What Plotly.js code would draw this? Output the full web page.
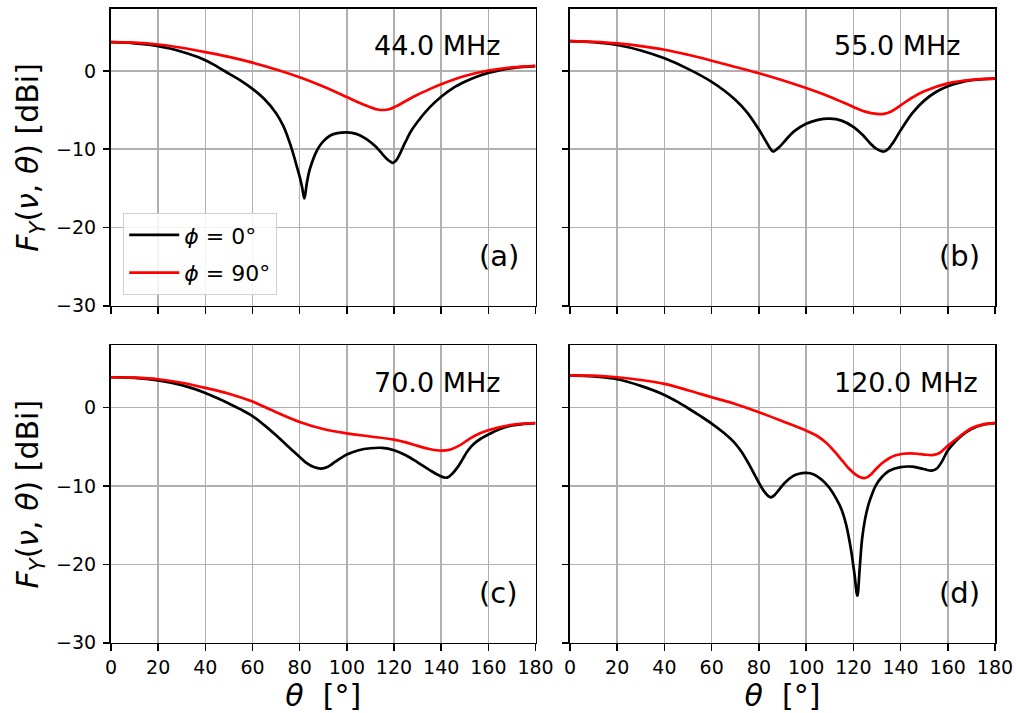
<!DOCTYPE html>
<html><head><meta charset="utf-8">
<script src="https://cdn.plot.ly/plotly-3.0.1.min.js"></script>
<style>html,body{margin:0;padding:0;background:#fff}#plot{width:1016px;height:713px}</style>
</head><body><div id="plot"></div>
<script>
// ---- data ----
const thetaTicks = [0,20,40,60,80,100,120,140,160,180];
const yTicks = [-30,-20,-10,0];
const freqLabels = ['44.0 MHz','55.0 MHz','70.0 MHz','120.0 MHz'];
const panelTags = ['(a)','(b)','(c)','(d)'];
const seriesNames = ['<i>ϕ</i> = 0°','<i>ϕ</i> = 90°'];

// (a) 44 MHz
const thA0 = [0,5,10,15,20,25,30,35,40,45,50,55,60,65,70,73,75,77,78.5,80,81,82,83,84,85,86.5,88,90,93,96,100,104,108,112,115,117,118.5,119.5,121,122.5,124,125.5,127,130,135,140,145,150,155,160,165,170,175,180];
const fA0  = [3.67,3.62,3.52,3.37,3.15,2.85,2.45,1.95,1.35,0.55,-0.35,-1.25,-2.3,-3.6,-5.4,-7.0,-8.5,-10.3,-11.9,-13.5,-14.8,-16.3,-14.4,-12.9,-11.9,-10.7,-9.8,-9.0,-8.25,-7.95,-7.85,-8.05,-8.65,-9.6,-10.6,-11.25,-11.6,-11.75,-11.4,-10.6,-9.6,-8.7,-7.8,-6.5,-4.7,-3.3,-2.2,-1.4,-0.75,-0.25,0.1,0.35,0.5,0.6];
const thA90 = [0,10,20,30,40,50,60,70,80,90,100,105,110,113,115.5,118,121,125,130,135,140,150,160,170,180];
const fA90  = [3.67,3.6,3.37,2.95,2.4,1.78,1.05,0.18,-0.82,-2.0,-3.35,-4.05,-4.65,-4.93,-5.0,-4.9,-4.5,-3.85,-3.05,-2.35,-1.7,-0.65,0.05,0.45,0.65];

// (b) 55 MHz
const thB0 = [0,10,20,30,40,50,60,65,70,75,80,83,85,86,88,90,92,95,100,105,110,115,120,124,127,130,133,135,137,140,145,150,155,160,165,170,175,180];
const fB0  = [3.8,3.65,3.3,2.6,1.6,0.25,-1.4,-2.45,-3.7,-5.3,-7.5,-9.0,-10.0,-10.3,-9.9,-9.3,-8.6,-7.7,-6.75,-6.25,-6.1,-6.35,-7.15,-8.2,-9.2,-10.0,-10.3,-9.9,-9.1,-7.6,-5.4,-3.8,-2.7,-1.95,-1.5,-1.2,-1.05,-1.0];
const thB90 = [0,10,20,30,40,50,60,70,80,90,100,110,120,125,130,133,136,140,145,150,160,170,180];
const fB90  = [3.8,3.7,3.5,3.15,2.7,2.05,1.3,0.5,-0.3,-1.2,-2.2,-3.3,-4.6,-5.2,-5.5,-5.5,-5.2,-4.4,-3.4,-2.6,-1.6,-1.15,-1.0];

// (c) 70 MHz
const thC0 = [0,10,20,30,35,40,45,50,55,60,65,70,75,80,83,86,89,92,95,100,105,110,115,120,125,130,135,139,142.5,145,147,149,151,153,155,157,160,165,170,175,180];
const fC0  = [3.85,3.78,3.45,2.85,2.4,1.85,1.2,0.5,-0.25,-1.1,-2.25,-3.55,-4.95,-6.3,-7.1,-7.6,-7.8,-7.55,-6.95,-6.0,-5.45,-5.2,-5.15,-5.45,-6.1,-7.0,-7.95,-8.65,-8.95,-8.35,-7.6,-6.65,-5.65,-4.9,-4.35,-3.95,-3.45,-2.75,-2.3,-2.1,-2.0];
const thC90 = [0,10,20,30,40,50,60,70,80,90,100,110,120,125,130,135,140,144,148,152,156,160,165,170,175,180];
const fC90  = [3.85,3.8,3.6,3.15,2.5,1.75,0.75,-0.6,-1.85,-2.75,-3.3,-3.7,-4.1,-4.45,-4.9,-5.3,-5.5,-5.35,-4.8,-4.0,-3.35,-2.9,-2.5,-2.2,-2.05,-2.0];

// (d) 120 MHz
const thD0 = [0,10,20,30,40,45,50,55,60,65,70,73,76,80,82,84,85,86.5,88.5,91,94.4,97,100,103,107,110,112.7,115,117,119,120.5,121.7,122.7,123.7,125,126.5,128,129.6,132,135,140,145,149.7,153.3,155.5,157.5,160,163,166,170,175,180];
const fD0  = [4.1,3.95,3.6,2.75,1.6,0.8,-0.1,-1.05,-2.05,-3.2,-4.6,-5.8,-7.35,-9.6,-10.6,-11.3,-11.45,-11.2,-10.5,-9.6,-8.75,-8.45,-8.35,-8.5,-9.3,-10.3,-11.6,-13.0,-15.0,-18.1,-21.3,-24.0,-20.5,-16.8,-14.2,-12.3,-11.0,-9.9,-8.9,-8.1,-7.6,-7.55,-7.85,-8.05,-7.75,-6.9,-5.5,-4.4,-3.55,-2.75,-2.2,-2.0];
const thD90 = [0,10,20,30,40,50,60,70,80,90,100,105,108.5,112,115.5,118,121,123,124.6,126.2,127.6,129.6,132,135,138,141,144,147,150,154,156.5,158.5,160,165,170,175,180];
const fD90  = [4.1,4.05,3.85,3.5,3.0,2.2,1.3,0.45,-0.6,-1.75,-2.95,-3.7,-4.5,-5.6,-6.85,-7.75,-8.55,-8.9,-9.0,-8.85,-8.5,-7.85,-7.15,-6.5,-6.1,-5.9,-5.85,-5.9,-6.0,-6.05,-5.8,-5.3,-4.9,-3.7,-2.65,-2.15,-2.0];

// ---- build ----
const pairs = [[thA0,fA0,thA90,fA90],[thB0,fB0,thB90,fB90],[thC0,fC0,thC90,fC90],[thD0,fD0,thD90,fD90]];
const colors = ['#000000','#ff0000'];
const traces = [];
pairs.forEach((p,i)=>{
  const ax = i===0 ? '' : String(i+1);
  [0,1].forEach(k=>{
    traces.push({
      x: p[2*k], y: p[2*k+1], type:'scatter', mode:'lines',
      line:{color:colors[k], width:2.7, shape:'spline', smoothing:1},
      name: seriesNames[k], showlegend: i===0, legendgroup:'g'+k,
      xaxis:'x'+ax, yaxis:'y'+ax, hoverinfo:'skip'
    });
  });
});

const FONT = 'DejaVu Sans, sans-serif';
const xDom = [[0.10925,0.52707],[0.56102,0.97933]];
const yDom = [[0.5711,0.98738],[0.09846,0.51543]];
const layout = {
  width:1016, height:713,
  margin:{l:0,r:0,t:0,b:0,pad:0},
  paper_bgcolor:'#fff', plot_bgcolor:'#fff',
  font:{family:FONT, size:19, color:'#000'},
  showlegend:true,
  legend:{x:0.1211, y:0.7013, xanchor:'left', yanchor:'top', traceorder:'grouped',
    bgcolor:'rgba(255,255,255,0.85)', bordercolor:'#d0d0d0', borderwidth:1.2,
    font:{family:FONT, size:22}, itemwidth:50, tracegroupgap:6},
  annotations:[]
};
for(let i=0;i<4;i++){
  const ax = i===0 ? '' : String(i+1);
  const col = i%2, row = Math.floor(i/2);
  const xa = {
    domain:xDom[col], range:[0,180], tickvals:thetaTicks, ticktext:thetaTicks.map(String),
    showgrid:true, gridcolor:'#b0b0b0', gridwidth:1.5, zeroline:false,
    showline:true, mirror:true, linecolor:'#000', linewidth:1.6,
    ticks:'outside', ticklen:6.5, tickwidth:1.6, tickcolor:'#000',
    showticklabels: row===1, tickfont:{family:FONT,size:19},
    anchor:'y'+ax, fixedrange:true
  };
  if(row===1) xa.title = {text:'<i>θ</i>  [°]', font:{family:FONT,size:30}, standoff:8};
  const ya = {
    domain:yDom[row], range:[-30,7.9], tickvals:yTicks, ticktext:yTicks.map(v=>v<0?'\u2212'+Math.abs(v):String(v)),
    showgrid:true, gridcolor:'#b0b0b0', gridwidth:1.5, zeroline:false,
    showline:true, mirror:true, linecolor:'#000', linewidth:1.6,
    ticks:'outside', ticklen:6.5, tickwidth:1.6, tickcolor:'#000',
    showticklabels: col===0, tickfont:{family:FONT,size:19}, ticklabelstandoff:3,
    anchor:'x'+ax, fixedrange:true
  };
  if(col===0) ya.title = {text:'<i>F</i><sub><i>Y</i></sub>(<i>ν</i>, <i>θ</i>) [dBi]', font:{family:FONT,size:30}, standoff:8};
  layout['xaxis'+ax] = xa;
  layout['yaxis'+ax] = ya;
  layout.annotations.push({xref:'x'+ax, yref:'y'+ax, x:110.8, y:3.2, xanchor:'left', yanchor:'middle',
    text:freqLabels[i], showarrow:false, font:{family:FONT,size:27,color:'#000'}});
  layout.annotations.push({xref:'x'+ax, yref:'y'+ax, x:155.4, y:-23.6, xanchor:'left', yanchor:'middle',
    text:panelTags[i], showarrow:false, font:{family:FONT,size:29,color:'#000'}});
}
Plotly.newPlot('plot', traces, layout, {staticPlot:true, displayModeBar:false});
</script></body></html>
